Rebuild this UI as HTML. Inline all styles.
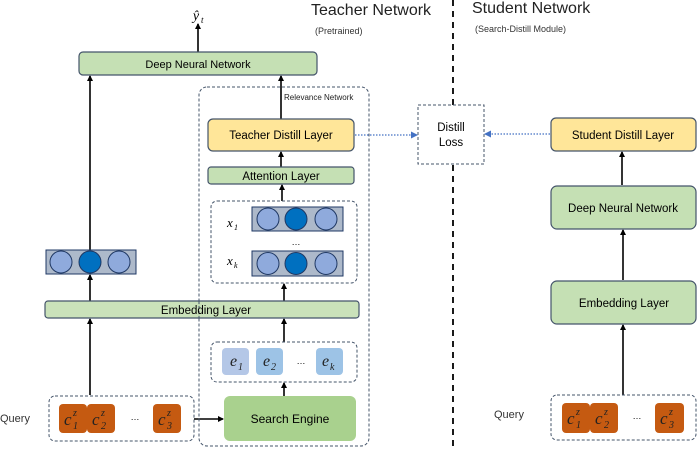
<!DOCTYPE html>
<html><head><meta charset="utf-8"><style>
html,body{margin:0;padding:0;background:#fff;}
svg{display:block;font-family:"Liberation Sans",sans-serif;}
.m{font-family:"Liberation Serif",serif;font-style:italic;}
</style></head><body>
<svg width="698" height="451" viewBox="0 0 698 451" xmlns="http://www.w3.org/2000/svg">
<defs>
<marker id="a" markerWidth="6" markerHeight="6" refX="5" refY="3" orient="auto" markerUnits="userSpaceOnUse"><path d="M0,0 L6,3 L0,6 z" fill="#000"/></marker>
<marker id="b" markerWidth="7" markerHeight="7" refX="6" refY="3.5" orient="auto" markerUnits="userSpaceOnUse"><path d="M0,0 L7,3.5 L0,7 z" fill="#4472c4"/></marker>
</defs>
<g stroke="#000" stroke-width="1.6" fill="none" marker-end="url(#a)">
<line x1="198" y1="52" x2="198" y2="24"/>
<line x1="90" y1="250" x2="90" y2="76"/>
<line x1="90" y1="301" x2="90" y2="275"/>
<line x1="90" y1="395" x2="90" y2="319"/>
<line x1="281" y1="119" x2="281" y2="76"/>
<line x1="281" y1="167" x2="281" y2="152"/>
<line x1="282" y1="201" x2="282" y2="185"/>
<line x1="284" y1="301" x2="284" y2="284"/>
<line x1="284" y1="342" x2="284" y2="319"/>
<line x1="284" y1="396" x2="284" y2="383"/>
<line x1="194" y1="419" x2="223" y2="419"/>
<line x1="622" y1="185" x2="622" y2="152"/>
<line x1="623" y1="280" x2="623" y2="230"/>
<line x1="623" y1="395" x2="623" y2="325"/>
</g>
<text x="196" y="20" class="m" font-size="14" text-anchor="middle">ŷ</text>
<text x="201" y="23" class="m" font-size="9">t</text>
<text x="311" y="15" font-size="16" fill="#222">Teacher Network</text>
<text x="315" y="34" font-size="9" fill="#333">(Pretrained)</text>
<text x="472" y="13" font-size="16" fill="#222">Student Network</text>
<text x="475" y="32" font-size="9" fill="#333">(Search-Distill Module)</text>
<line x1="453" y1="0" x2="453" y2="451" stroke="#000" stroke-width="1.8" stroke-dasharray="6,5"/>
<rect x="199" y="87" width="170" height="359" rx="8" fill="none" stroke="#44546a" stroke-dasharray="3,2"/>
<text x="284" y="100" font-size="8" fill="#222">Relevance Network</text>
<rect x="79" y="52" width="238" height="23" rx="4" fill="#c5e0b4" stroke="#44546a" stroke-width="1.2"/>
<text x="198" y="68" font-size="11" text-anchor="middle">Deep Neural Network</text>
<rect x="208" y="119" width="146" height="32" rx="5" fill="#ffe699" stroke="#44546a" stroke-width="1.2"/>
<text x="281" y="139" font-size="11.5" text-anchor="middle">Teacher Distill Layer</text>
<rect x="208" y="167" width="146" height="17" rx="3" fill="#c5e0b4" stroke="#44546a" stroke-width="1.2"/>
<text x="281" y="180" font-size="11.5" text-anchor="middle">Attention Layer</text>
<rect x="211" y="201" width="146" height="82" rx="6" fill="none" stroke="#44546a" stroke-dasharray="3,2"/>
<text x="227" y="227" class="m" font-size="13">x</text><text x="234" y="230" class="m" font-size="8">1</text>
<text x="227" y="265" class="m" font-size="13">x</text><text x="234" y="268" class="m" font-size="8">k</text>
<text x="296" y="245" font-size="9" text-anchor="middle">…</text>
<g stroke="#1f3864" stroke-width="1">
<rect x="252" y="207" width="91" height="24" fill="#adb9ca"/>
<circle cx="268" cy="219" r="11" fill="#8faadc"/><circle cx="296" cy="219" r="11" fill="#0070c0"/><circle cx="326" cy="219" r="11" fill="#8faadc"/>
<rect x="252" y="251" width="91" height="25" fill="#adb9ca"/>
<circle cx="268" cy="263.5" r="11" fill="#8faadc"/><circle cx="296" cy="263.5" r="11" fill="#0070c0"/><circle cx="326" cy="263.5" r="11" fill="#8faadc"/>
<rect x="46" y="250" width="90" height="24" fill="#adb9ca"/>
<circle cx="61" cy="262" r="11" fill="#8faadc"/><circle cx="90" cy="262" r="11" fill="#0070c0"/><circle cx="119" cy="262" r="11" fill="#8faadc"/>
</g>
<rect x="45" y="301" width="314" height="17" rx="3" fill="#c5e0b4" stroke="#44546a" stroke-width="1.2" fill-opacity="0.92"/>
<line x1="199" y1="301" x2="199" y2="318" stroke="#44546a" stroke-dasharray="3,2"/>
<text x="206" y="314" font-size="11.5" text-anchor="middle">Embedding Layer</text>
<rect x="211" y="342" width="146" height="40" rx="6" fill="none" stroke="#44546a" stroke-dasharray="3,2"/>
<rect x="222" y="348" width="27" height="27" rx="4" fill="#b4c7e7"/>
<rect x="256" y="348" width="27" height="27" rx="4" fill="#9dc3e6"/>
<rect x="316" y="348" width="27" height="27" rx="4" fill="#9dc3e6"/>
<g class="m" fill="#222">
<text x="230" y="366" font-size="16">e</text><text x="238" y="370" font-size="10">1</text>
<text x="263" y="366" font-size="16">e</text><text x="271" y="370" font-size="10">2</text>
<text x="322" y="366" font-size="16">e</text><text x="330" y="370" font-size="10">k</text>
</g>
<text x="301" y="364" font-size="9" text-anchor="middle">…</text>
<rect x="224" y="396" width="132" height="45" rx="6" fill="#a9d18e"/>
<text x="290" y="423" font-size="12" text-anchor="middle">Search Engine</text>
<rect x="49" y="396" width="145" height="45" rx="6" fill="none" stroke="#44546a" stroke-dasharray="3,2"/>
<text x="0" y="422" font-size="11" fill="#333">Query</text>
<g fill="#c55a11">
<rect x="59" y="404" width="28" height="29" rx="4"/><rect x="87" y="404" width="28" height="29" rx="4"/><rect x="153" y="404" width="28" height="29" rx="4"/>
<rect x="562" y="403" width="28" height="30" rx="4"/><rect x="590" y="403" width="28" height="30" rx="4"/><rect x="655" y="403" width="29" height="30" rx="4"/>
</g>
<g class="m" fill="#222">
<text x="64" y="425" font-size="17">c</text><text x="73" y="429" font-size="10">1</text><text x="73" y="416" font-size="10">z</text>
<text x="92" y="425" font-size="17">c</text><text x="101" y="429" font-size="10">2</text><text x="101" y="416" font-size="10">z</text>
<text x="158" y="425" font-size="17">c</text><text x="167" y="429" font-size="10">3</text><text x="167" y="416" font-size="10">z</text>
<text x="567" y="424" font-size="17">c</text><text x="576" y="428" font-size="10">1</text><text x="576" y="415" font-size="10">z</text>
<text x="595" y="424" font-size="17">c</text><text x="604" y="428" font-size="10">2</text><text x="604" y="415" font-size="10">z</text>
<text x="660" y="424" font-size="17">c</text><text x="669" y="428" font-size="10">3</text><text x="669" y="415" font-size="10">z</text>
</g>
<text x="135" y="420" font-size="9" text-anchor="middle">…</text>
<text x="637" y="419" font-size="9" text-anchor="middle">…</text>
<rect x="418" y="105" width="66" height="59" fill="#fff" stroke="#44546a" stroke-dasharray="3,2"/>
<text x="451" y="131" font-size="11.5" text-anchor="middle">Distill</text>
<text x="451" y="146" font-size="11.5" text-anchor="middle">Loss</text>
<g stroke="#4472c4" stroke-width="1.3" stroke-dasharray="1.5,1.5" marker-end="url(#b)">
<line x1="355" y1="135" x2="417" y2="135"/>
<line x1="550" y1="134" x2="485" y2="134"/>
</g>
<rect x="551" y="118" width="145" height="33" rx="5" fill="#ffe699" stroke="#44546a" stroke-width="1.2"/>
<text x="623" y="139" font-size="11.5" text-anchor="middle">Student Distill Layer</text>
<rect x="551" y="186" width="145" height="43" rx="6" fill="#c5e0b4" stroke="#44546a" stroke-width="1.2"/>
<text x="623" y="212" font-size="11.5" text-anchor="middle">Deep Neural Network</text>
<rect x="551" y="281" width="145" height="43" rx="6" fill="#c5e0b4" stroke="#44546a" stroke-width="1.2"/>
<text x="624" y="307" font-size="11.5" text-anchor="middle">Embedding Layer</text>
<rect x="551" y="395" width="145" height="45" rx="6" fill="none" stroke="#44546a" stroke-dasharray="3,2"/>
<text x="494" y="418" font-size="11" fill="#333">Query</text>
</svg>
</body></html>
